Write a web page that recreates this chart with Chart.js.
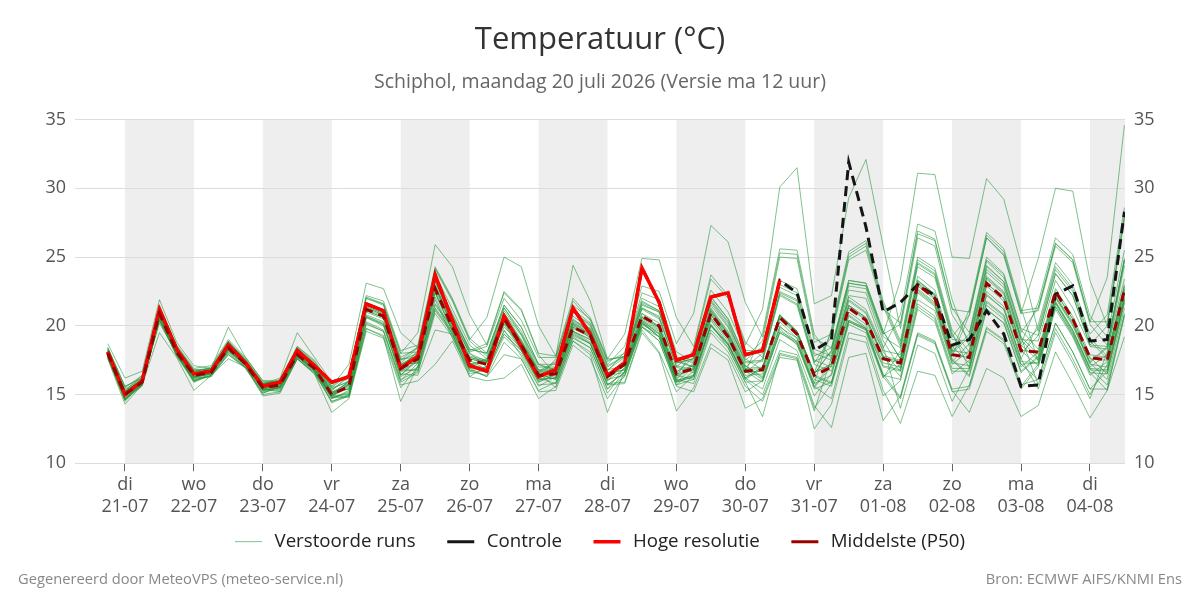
<!DOCTYPE html>
<html lang="nl">
<head>
<meta charset="utf-8">
<title>Temperatuur</title>
<script src="https://cdn.jsdelivr.net/npm/chart.js@4.4.1/dist/chart.umd.min.js"></script>
<style>
  html, body { margin: 0; padding: 0; background: #fff; }
  #wrap { width: 1200px; height: 600px; }
</style>
</head>
<body>
<div id="wrap"><canvas id="chart" width="1200" height="600"></canvas></div>
<script>
// uren t.o.v. di 21-07 00:00, stap 6 uur
const hours = [-6,0,6,12,18,24,30,36,42,48,54,60,66,72,78,84,90,96,102,108,114,120,126,132,138,144,150,156,162,168,
  174,180,186,192,198,204,210,216,222,228,234,240,246,252,258,264,270,276,282,288,294,300,306,312,318,324,330,336,342,348];

const dayTicks = [0,24,48,72,96,120,144,168,192,216,240,264,288,312,336];
const dayNames = ['di','wo','do','vr','za','zo','ma','di','wo','do','vr','za','zo','ma','di'];
const dayDates = ['21-07','22-07','23-07','24-07','25-07','26-07','27-07','28-07','29-07','30-07','31-07','01-08','02-08','03-08','04-08'];
const shadedDays = [0,48,96,144,192,240,288,336];

const hres = [18.1,15.0,16.0,21.2,18.3,16.5,16.7,18.6,17.3,15.6, 15.9,18.2,17.1,15.9,16.3,21.6,21.1,16.9,17.8,23.7,
  20.4,17.1,16.7,20.7,18.5,16.3,16.8,21.3,19.4,16.4, 17.3,24.2,21.7,17.5,17.9,22.1,22.4,17.9,18.2,23.3];

const control = [18.1,15.0,16.0,21.2,18.3,16.5,16.7,18.6,17.3,15.6, 15.9,18.2,17.1,15.9,16.3,21.6,21.1,16.9,17.8,23.7,
  20.4,17.1,16.7,20.7,18.5,16.3,16.8,21.3,19.4,16.4, 17.3,24.2,21.7,17.5,17.9,22.1,22.4,17.9,18.2,23.3,
  22.4,18.2,19.0,31.9,27.2,21.0,21.7,23.0,22.2,18.6, 19.0,21.1,19.4,15.6,15.7,22.3,22.9,18.9,19.0,28.3];

const p50 = [18.0,15.0,15.9,20.9,18.1,16.4,16.6,18.4,17.2,15.5, 15.7,17.9,16.9,15.0,15.6,21.2,20.7,16.9,17.6,22.7,
  19.9,17.5,17.2,20.5,18.6,16.4,16.5,19.9,19.3,16.3, 17.2,20.7,20.0,16.5,16.9,20.9,19.2,16.7,16.8,20.6,
  19.4,16.4,17.0,21.3,20.4,17.6,17.3,23.0,22.0,17.9, 17.7,23.1,22.0,18.2,18.1,22.5,20.5,17.7,17.5,22.6];

// verstoorde runs (geschat uit de grafiek)
const runs = [
  [18.1,15.1, 16.0,21.0,18.2,16.5, 16.9,18.8,17.5,15.8, 16.0,18.4,17.3,15.5, 16.5,22.2,21.8,18.2, 18.6,24.3,22.0,19.1, 18.0,21.5,19.9,17.2, 16.6,20.0,19.4,16.4, 16.6,20.2,19.2,15.9, 16.3,20.0,18.6,16.1, 16.9,20.7,19.5,16.5, 18.2,23.1,22.9,19.4, 20.1,26.7,26.2,21.2, 21.0,26.6,25.4,21.1, 21.3,26.0,24.8,20.3, 20.3,28.1],
  [17.8,14.7, 15.8,20.4,17.9,16.0, 16.4,17.9,17.0,15.1, 15.6,17.8,16.8,14.9, 15.5,21.1,20.6,16.8, 16.8,21.2,19.5,16.8, 16.3,17.9,17.6,15.2, 15.3,18.6,17.6,14.7, 16.4,20.0,18.9,15.7, 16.7,20.8,19.1,16.6, 16.7,20.5,19.3,16.3, 15.8,20.3,19.7,16.3, 14.7,19.3,18.7,15.2, 15.4,19.6,18.7,15.4, 17.0,21.2,19.2,16.4, 17.4,22.5],
  [18.1,15.2, 16.1,21.1,18.3,16.6, 16.6,18.4,17.2,15.5, 15.7,17.9,16.9,15.0, 16.0,21.6,21.1,17.5, 18.5,24.2,21.9,19.0, 20.6,25.0,24.3,20.0, 17.8,24.4,21.8,17.6, 17.7,21.6,21.0,17.3, 17.6,22.1,20.5,17.7, 18.9,25.0,24.9,18.8, 19.4,25.0,25.8,21.4, 18.5,24.6,23.8,19.3, 17.7,23.1,22.0,18.2, 17.1,21.4,19.3,16.6, 16.5,21.7],
  [18.2,15.2, 16.0,20.8,18.2,16.3, 16.7,18.2,17.3,15.4, 15.2,17.8,16.7,14.4, 14.9,19.8,19.2,14.5, 17.1,21.5,19.8,17.1, 17.4,20.7,18.8,16.6, 17.3,21.0,20.1,17.1, 17.8,21.8,21.1,17.5, 17.0,21.1,19.4,16.9, 16.1,19.6,18.9,15.6, 14.7,19.5,19.2,15.3, 12.9,16.7,16.4,13.4, 15.7,19.9,19.0,15.7, 16.1,20.2,18.1,15.4, 16.7,21.9],
  [18.1,15.3, 16.0,21.1,18.2,16.5, 16.7,18.9,17.4,15.8, 15.7,18.0,17.0,15.1, 15.4,21.0,20.5,16.7, 17.4,22.5,19.7,17.3, 16.6,19.2,18.0,15.7, 15.8,19.1,18.4,15.4, 17.0,20.5,19.8,16.3, 18.3,23.4,22.0,18.6, 21.2,30.1,31.5,21.6, 22.2,29.3,32.1,25.8, 19.8,26.4,25.8,20.8, 18.9,24.4,23.2,19.2, 17.9,22.2,20.3,17.4, 18.5,24.8],
  [17.9,14.7, 15.9,20.2,18.0,15.9, 16.6,18.1,17.2,15.3, 15.5,17.8,16.8,14.7, 15.3,20.6,20.0,16.4, 17.7,22.8,20.0,17.6, 17.3,20.6,18.7,16.5, 16.1,19.4,18.7,15.7, 15.8,19.5,18.0,13.8, 15.5,18.7,17.8,15.2, 16.0,19.5,18.8,15.5, 17.1,21.4,20.5,17.7, 17.4,23.1,22.1,18.0, 19.2,24.7,23.5,19.5, 21.3,26.0,24.8,20.3, 23.5,34.6],
  [18.2,15.2, 16.1,21.1,18.3,16.6, 16.8,18.6,17.4,15.7, 15.9,18.1,17.1,15.2, 15.4,20.7,20.1,16.5, 16.4,19.7,19.4,16.3, 16.0,16.2,17.2,14.7, 15.6,18.9,17.9,13.7, 16.7,20.3,19.2,16.0, 16.4,20.0,18.7,16.2, 17.0,20.8,19.6,16.6, 17.2,21.5,20.6,17.8, 16.3,21.6,20.7,16.9, 16.9,21.7,20.7,17.2, 16.1,20.2,18.1,15.4, 15.4,20.8],
  [18.0,15.1, 15.8,20.8,18.0,16.3, 16.6,18.6,17.3,15.6, 16.0,18.5,17.5,15.6, 17.2,23.1,22.7,19.5, 18.4,24.1,21.8,18.9, 17.8,21.3,19.6,17.0, 17.0,20.7,19.8,16.8, 17.1,20.6,19.9,16.4, 16.1,19.7,18.4,15.9, 13.4,18.0,17.7,14.0, 15.8,20.3,19.7,16.3, 17.2,22.9,21.9,17.8, 20.8,26.4,25.1,20.9, 24.9,30.0,29.8,23.3, 20.0,27.9],
  [17.8,14.7, 15.8,20.8,18.0,16.3, 16.5,18.3,17.1,15.4, 15.3,17.6,16.6,14.5, 14.9,20.2,19.6,16.0, 17.3,22.4,19.6,17.2, 17.6,21.1,19.4,16.8, 16.2,19.6,19.0,16.0, 16.9,20.4,19.7,16.2, 17.3,21.8,20.2,17.3, 17.4,22.2,21.5,17.2, 16.7,21.0,20.1,17.3, 17.0,22.7,21.7,17.6, 16.4,21.2,20.2,16.7, 17.8,22.1,20.2,17.3, 18.4,24.7],
  [18.1,15.1, 16.2,21.2,18.4,16.7, 16.9,18.8,17.5,15.8, 16.0,18.4,17.3,15.5, 15.9,21.5,21.0,17.2, 17.9,23.0,20.2,17.8, 17.5,20.8,18.9,16.7, 17.4,21.2,20.2,17.2, 18.5,22.9,22.5,18.7, 20.9,27.3,26.1,21.7, 19.2,25.3,25.2,19.1, 18.4,23.3,23.1,19.6, 17.6,23.3,22.3,18.2, 18.0,23.4,22.3,18.5, 19.8,24.3,22.7,19.1, 17.8,22.9],
  [17.6,14.3, 15.7,19.5,17.7,15.3, 16.4,17.6,17.0,14.9, 15.1,17.6,16.5,13.7, 14.7,19.6,19.1,15.5, 17.0,21.3,19.6,16.9, 16.9,19.4,18.2,15.9, 16.5,19.9,19.3,16.3, 17.2,20.7,20.0,16.5, 16.9,20.9,19.2,16.7, 15.9,19.5,18.7,15.4, 15.9,20.4,19.8,16.5, 14.8,19.4,18.8,15.3, 13.7,16.9,16.2,13.4, 14.2,18.1,15.8,13.3, 15.3,19.2],
  [18.7,16.2, 16.7,21.9,18.8,17.1, 16.9,19.9,17.7,16.0, 15.9,18.3,17.2,15.4, 16.0,21.6,21.1,17.5, 18.0,23.4,20.8,18.2, 18.7,22.5,21.2,18.0, 17.8,22.0,20.6,17.6, 19.4,24.9,24.8,20.6, 18.5,23.7,22.2,18.8, 17.7,22.5,21.9,17.5, 17.0,21.3,20.4,17.6, 17.3,23.0,22.0,17.9, 17.7,23.1,22.0,18.2, 18.1,22.5,20.5,17.7, 16.5,21.7],
  [17.9,14.9, 15.8,20.4,17.9,16.0, 16.5,18.3,17.1,15.4, 15.6,17.8,16.8,14.9, 15.8,21.4,20.9,17.2, 17.8,23.2,20.6,18.0, 17.0,20.3,18.4,16.2, 15.8,19.2,18.4,15.4, 16.3,19.9,18.9,15.6, 15.2,18.4,17.5,14.0, 14.7,17.9,17.6,12.5, 14.3,19.1,18.8,14.9, 16.0,21.2,20.3,16.5, 17.5,22.9,21.8,18.0, 19.3,23.8,22.2,18.6, 20.0,27.8],
  [18.2,15.3, 16.4,21.5,18.5,16.8, 16.9,18.8,17.5,15.8, 15.8,18.0,17.0,15.1, 15.7,21.3,20.8,17.0, 18.1,23.5,20.9,18.3, 18.0,21.5,19.9,17.2, 17.2,21.0,20.0,17.0, 17.8,21.7,21.1,17.4, 17.0,21.0,19.3,16.8, 16.9,20.7,19.5,16.5, 18.2,23.1,22.9,19.4, 23.3,31.1,31.0,25.0, 24.9,30.7,29.2,24.5, 19.6,24.1,22.5,18.9, 17.6,22.7],
  [18.0,14.9, 16.0,20.7,18.1,16.2, 16.6,18.2,17.2,15.3, 15.5,17.9,16.8,14.8, 14.9,19.8,19.3,15.7, 16.0,17.2,18.9,16.3, 17.1,19.6,18.4,16.1, 16.2,19.6,18.8,15.8, 15.9,19.7,18.1,15.2, 16.4,20.1,18.7,16.2, 17.0,20.8,19.6,16.6, 19.6,25.2,26.0,21.6, 18.7,24.8,24.0,19.5, 16.9,21.8,20.8,17.2, 17.3,21.6,19.5,16.8, 16.7,21.9],
  [17.9,14.9, 15.8,20.8,18.0,16.3, 16.5,18.3,17.1,15.4, 15.8,18.2,17.1,15.3, 16.3,22.0,21.6,18.0, 19.5,25.9,24.3,20.8, 18.6,22.4,21.1,17.9, 16.4,19.8,19.2,16.2, 17.1,20.6,19.9,16.4, 16.8,20.8,19.1,16.6, 17.6,22.4,21.8,17.4, 18.0,22.9,22.7,19.2, 18.4,24.5,23.7,19.2, 20.8,26.4,25.2,20.9, 21.1,25.8,24.6,20.1, 18.6,24.9],
  [17.8,14.6, 15.9,20.6,18.0,16.1, 16.6,18.4,17.2,15.5, 15.7,17.9,16.9,15.0, 15.6,21.2,20.7,16.9, 17.6,22.7,19.9,17.5, 16.8,19.4,18.2,15.9, 16.5,19.9,19.3,16.3, 17.6,21.5,21.0,17.3, 17.6,22.1,20.5,17.6, 16.8,20.6,19.4,16.4, 15.9,20.4,19.8,16.4, 16.1,21.4,20.5,16.7, 16.7,21.5,20.5,17.0, 18.1,22.4,20.5,17.6, 17.5,22.6],
  [18.4,15.6, 16.2,21.2,18.4,16.7, 16.9,18.8,17.5,15.8, 16.2,19.5,17.7,15.9, 16.1,21.7,21.2,17.6, 17.7,22.8,20.0,17.6, 17.3,20.6,18.7,16.5, 16.1,19.5,18.7,15.7, 16.6,20.2,19.2,15.9, 16.3,20.0,18.6,16.1, 15.0,18.2,17.9,14.2, 12.6,17.7,18.0,13.1, 14.9,19.5,18.9,15.4, 15.6,19.8,18.9,15.6, 17.2,21.4,19.4,16.6, 15.3,20.7],
  [18.1,15.1, 16.0,21.0,18.2,16.5, 16.6,18.2,17.2,15.3, 15.5,17.9,16.8,14.8, 15.8,21.4,20.9,17.1, 17.8,22.9,20.1,17.7, 17.4,20.7,18.8,16.6, 16.7,20.1,19.5,16.5, 17.4,20.9,20.2,16.7, 17.1,21.1,19.4,16.9, 17.0,20.8,19.6,16.6, 17.2,21.5,20.6,17.8, 17.5,23.2,22.2,18.1, 19.4,24.8,23.7,19.7, 18.3,22.7,20.7,17.9, 17.7,22.8],
  [17.8,14.7, 15.8,20.8,18.0,16.3, 16.5,18.3,17.1,15.4, 15.6,17.8,16.8,14.9, 15.0,20.3,19.7,16.1, 16.7,21.1,19.4,16.7, 17.0,20.3,18.4,16.2, 17.6,21.8,20.4,17.4, 18.0,22.4,21.9,18.1, 17.4,21.9,20.3,17.4, 17.5,22.3,21.6,17.3, 19.2,24.8,25.5,21.2, 20.2,26.9,26.3,21.3, 19.5,25.0,23.8,19.8, 19.3,23.8,22.2,18.6, 18.5,24.8],
  [18.2,15.2, 16.3,21.3,18.5,16.8, 16.8,18.6,17.4,15.7, 15.6,18.0,16.9,14.9, 16.0,21.6,21.1,17.3, 18.4,23.8,21.2,18.6, 17.6,20.9,19.0,16.8, 16.9,20.3,19.7,16.7, 18.1,22.0,21.4,17.7, 17.3,21.3,19.6,17.1, 16.3,19.9,19.1,15.8, 19.8,25.4,26.2,21.8, 18.9,25.0,24.2,19.7, 18.1,23.5,22.4,18.6, 17.5,21.8,19.7,17.0, 17.9,23.0],
  [17.7,14.6, 15.7,20.7,17.9,16.2, 16.6,18.5,17.2,15.5, 15.5,17.7,16.7,14.8, 14.8,20.1,19.6,15.9, 16.6,20.9,19.2,16.5, 16.8,20.1,18.2,16.0, 16.7,20.5,19.5,16.5, 16.8,20.3,19.6,16.1, 15.8,19.5,18.1,15.6, 14.5,17.7,17.5,13.8, 17.7,22.6,22.4,18.9, 16.9,22.6,21.6,17.5, 16.3,21.2,20.2,16.6, 17.7,22.1,20.1,17.3, 16.1,21.3],
  [18.3,15.4, 16.1,21.1,18.3,16.6, 16.8,18.6,17.4,15.7, 16.1,18.5,17.4,15.6, 16.5,22.1,21.6,18.0, 18.1,23.2,20.4,18.0, 17.4,19.9,18.7,16.4, 17.0,20.4,19.8,16.8, 17.7,21.2,20.5,17.0, 18.1,22.6,21.0,18.2, 18.2,23.0,22.4,18.0, 17.5,21.8,20.9,18.1, 16.7,21.9,21.1,17.2, 18.2,23.6,22.5,18.7, 21.7,26.4,25.2,20.7, 19.2,25.5],
  [17.8,14.8, 15.7,20.4,17.8,15.9, 16.4,18.2,17.0,15.3, 15.5,17.7,16.7,14.8, 15.1,20.7,20.2,16.4, 17.5,22.9,20.3,17.7, 17.4,20.9,19.3,16.6, 15.5,18.9,18.1,15.1, 16.7,20.2,19.5,16.0, 16.4,20.4,18.7,16.2, 15.4,19.0,18.2,14.9, 16.5,20.8,19.9,17.1, 16.8,22.5,21.5,17.4, 18.7,24.1,23.0,19.0, 17.6,22.0,20.0,17.2, 17.0,22.1],
  [18.4,15.6, 16.2,21.2,18.4,16.7, 16.7,18.5,17.3,15.6, 15.8,18.0,17.0,15.1, 15.9,21.5,21.0,17.2, 17.3,21.6,19.9,17.2, 17.5,20.8,18.9,16.7, 16.8,20.2,19.6,16.6, 16.8,20.4,19.4,16.1, 17.2,21.2,19.5,17.0, 18.0,22.8,22.2,17.8, 18.4,23.3,23.1,19.6, 17.6,23.3,22.3,18.2, 21.2,26.8,25.6,21.3, 17.4,21.7,19.6,16.9, 16.8,22.0],
  [17.7,14.5, 15.8,20.5,17.9,16.0, 16.4,18.0,17.0,15.1, 15.6,17.8,16.8,14.9, 15.7,21.3,20.8,17.2, 17.3,22.4,19.6,17.2, 16.9,20.2,18.3,16.1, 16.2,19.6,19.0,16.0, 17.4,21.3,20.7,17.0, 16.6,20.6,18.9,16.4, 16.5,20.3,19.1,16.1, 15.6,20.1,19.5,16.2, 18.2,24.3,23.5,19.0, 18.9,24.3,23.2,19.2, 15.7,19.8,17.6,15.0, 17.2,22.3],
  [18.2,15.2, 16.1,21.1,18.3,16.6, 17.0,18.9,17.6,15.9, 15.9,18.1,17.1,15.2, 15.8,21.1,20.6,16.9, 18.2,23.3,20.5,18.1, 18.5,22.0,20.4,17.7, 17.7,21.5,20.5,17.5, 17.8,21.3,20.6,17.1, 16.8,20.5,19.1,16.6, 19.5,25.6,25.5,19.4, 17.6,21.9,21.0,18.2, 17.9,23.6,22.6,18.5, 17.3,22.2,21.2,17.6, 20.1,24.6,23.0,19.4, 20.8,28.6],
  [17.7,14.6, 15.7,20.7,17.9,16.2, 16.3,17.9,16.9,15.0, 15.2,17.6,16.5,14.5, 15.0,20.6,20.1,16.3, 17.0,22.1,19.3,16.9, 16.3,18.8,17.6,15.3, 15.9,19.3,18.7,15.7, 16.6,20.1,19.4,15.9, 17.0,21.5,19.9,17.1, 16.2,20.0,18.8,15.8, 16.4,20.7,19.8,17.0, 16.7,22.4,21.4,17.3, 17.1,22.5,21.4,17.6, 15.4,19.5,17.3,14.7, 18.1,24.4],
  [18.4,15.5, 16.4,21.4,18.6,16.9, 17.1,19.0,17.7,16.0, 16.0,18.2,17.2,15.3, 16.4,22.0,21.5,17.7, 18.4,23.5,20.7,18.3, 18.0,21.3,19.4,17.2, 16.8,20.2,19.4,16.4, 17.3,20.9,19.9,16.6, 17.7,21.7,20.0,17.5, 18.5,23.3,22.7,18.3, 17.8,22.1,21.2,18.4, 20.8,27.4,26.9,21.9, 18.5,23.9,22.8,19.0, 18.9,23.3,21.3,18.5, 18.3,23.4],
  [17.7,14.7, 15.6,20.6,17.8,16.1, 16.3,18.1,16.9,15.2, 15.4,17.6,16.6,14.7, 15.2,20.8,20.3,16.7, 16.8,21.9,19.1,16.7, 16.4,19.7,17.8,15.6, 16.3,20.1,19.1,16.1, 16.4,19.9,19.2,15.7, 16.1,20.1,18.4,15.9, 16.0,19.8,18.6,15.6, 17.3,22.2,22.0,18.5, 14.0,18.6,18.0,14.5, 16.9,22.3,21.2,17.4, 17.3,21.7,19.7,16.9, 15.7,20.9]
];

const footLeft = 'Gegenereerd door MeteoVPS (meteo-service.nl)';
const footRight = 'Bron: ECMWF AIFS/KNMI Ens';

// grijze banden voor om-en-om dagen, onder het raster
const dayBands = {
  id: 'dayBands',
  beforeDraw(chart) {
    const {ctx, chartArea, scales: {x}} = chart;
    ctx.save();
    ctx.fillStyle = '#eeeeee';
    shadedDays.forEach(h => {
      const x0 = Math.max(x.getPixelForValue(h), chartArea.left);
      const x1 = Math.min(x.getPixelForValue(h + 24), chartArea.right);
      if (x1 > x0) ctx.fillRect(x0, chartArea.top, x1 - x0, chartArea.bottom - chartArea.top);
    });
    ctx.restore();
  }
};

const footer = {
  id: 'footer',
  afterDraw(chart) {
    const ctx = chart.ctx;
    ctx.save();
    ctx.font = "14.7px 'Open Sans', sans-serif";
    ctx.fillStyle = '#888';
    ctx.textBaseline = 'middle';
    ctx.textAlign = 'left';
    ctx.fillText(footLeft, 18, 580);
    ctx.textAlign = 'right';
    ctx.fillText(footRight, 1182, 580);
    ctx.restore();
  }
};

Chart.defaults.font.family = "'Open Sans', sans-serif";
Chart.defaults.color = '#555';

const lineBase = { pointRadius: 0, pointHoverRadius: 0, pointStyle: 'line', tension: 0, fill: false };

const datasets = [
  { ...lineBase, label: '\u2009Middelste (P50)', data: p50, borderColor: '#9b0000', borderWidth: 3, borderDash: [9, 6] },
  { ...lineBase, label: '\u2009Hoge resolutie   ', data: hres, borderColor: '#ff0000', borderWidth: 3.5 },
  { ...lineBase, label: '\u2009Controle   ', data: control, borderColor: '#151515', borderWidth: 3, borderDash: [10, 6] },
  ...runs.map((r, i) => ({
    ...lineBase,
    label: i === 0 ? '\u2009Verstoorde runs   ' : 'run ' + (i + 1),
    data: r,
    borderColor: 'rgba(38,150,60,0.58)',
    borderWidth: 1
  }))
];

const yTicks = { stepSize: 5, font: { size: 18 }, color: '#555', padding: 9 };

new Chart(document.getElementById('chart'), {
  type: 'line',
  data: { labels: hours, datasets },
  options: {
    responsive: false,
    animation: false,
    devicePixelRatio: 1,
    layout: { padding: { top: 0, left: 0, right: 0, bottom: 39 } },
    plugins: {
      title: {
        display: true, text: 'Temperatuur (°C)', color: '#333',
        font: { size: 31, weight: 'normal' }, padding: { top: 22, bottom: 0 }
      },
      subtitle: {
        display: true, text: 'Schiphol, maandag 20 juli 2026 (Versie ma 12 uur)', color: '#666',
        font: { size: 19.5, weight: 'normal' }, padding: { top: 12, bottom: 25 }
      },
      legend: {
        position: 'bottom',
        labels: {
          usePointStyle: true, pointStyleWidth: 27, padding: 17,
          font: { size: 18.7 }, color: '#222',
          filter: item => item.datasetIndex <= 3,
          sort: (a, b) => b.datasetIndex - a.datasetIndex
        }
      },
      tooltip: { enabled: false }
    },
    scales: {
      x: {
        type: 'linear', min: -17.4, max: 348.2,
        afterBuildTicks: axis => { axis.ticks = dayTicks.map(v => ({ value: v })); },
        afterFit: s => { s.height = 52; },
        ticks: {
          autoSkip: false, maxRotation: 0, padding: 3, font: { size: 18 }, color: '#555',
          callback: (v, i) => [dayNames[i], dayDates[i]]
        },
        grid: { drawOnChartArea: false, drawTicks: true, tickLength: 8, color: '#666' },
        border: { display: false }
      },
      y: {
        position: 'left', min: 10, max: 35,
        afterFit: s => { s.width = 75; },
        ticks: yTicks,
        grid: { color: '#dcdcdc', drawTicks: false },
        border: { display: false }
      },
      y2: {
        position: 'right', min: 10, max: 35,
        afterFit: s => { s.width = 75; },
        ticks: yTicks,
        grid: { drawOnChartArea: false, drawTicks: false },
        border: { display: false }
      }
    }
  },
  plugins: [dayBands, footer]
});
</script>
</body>
</html>
